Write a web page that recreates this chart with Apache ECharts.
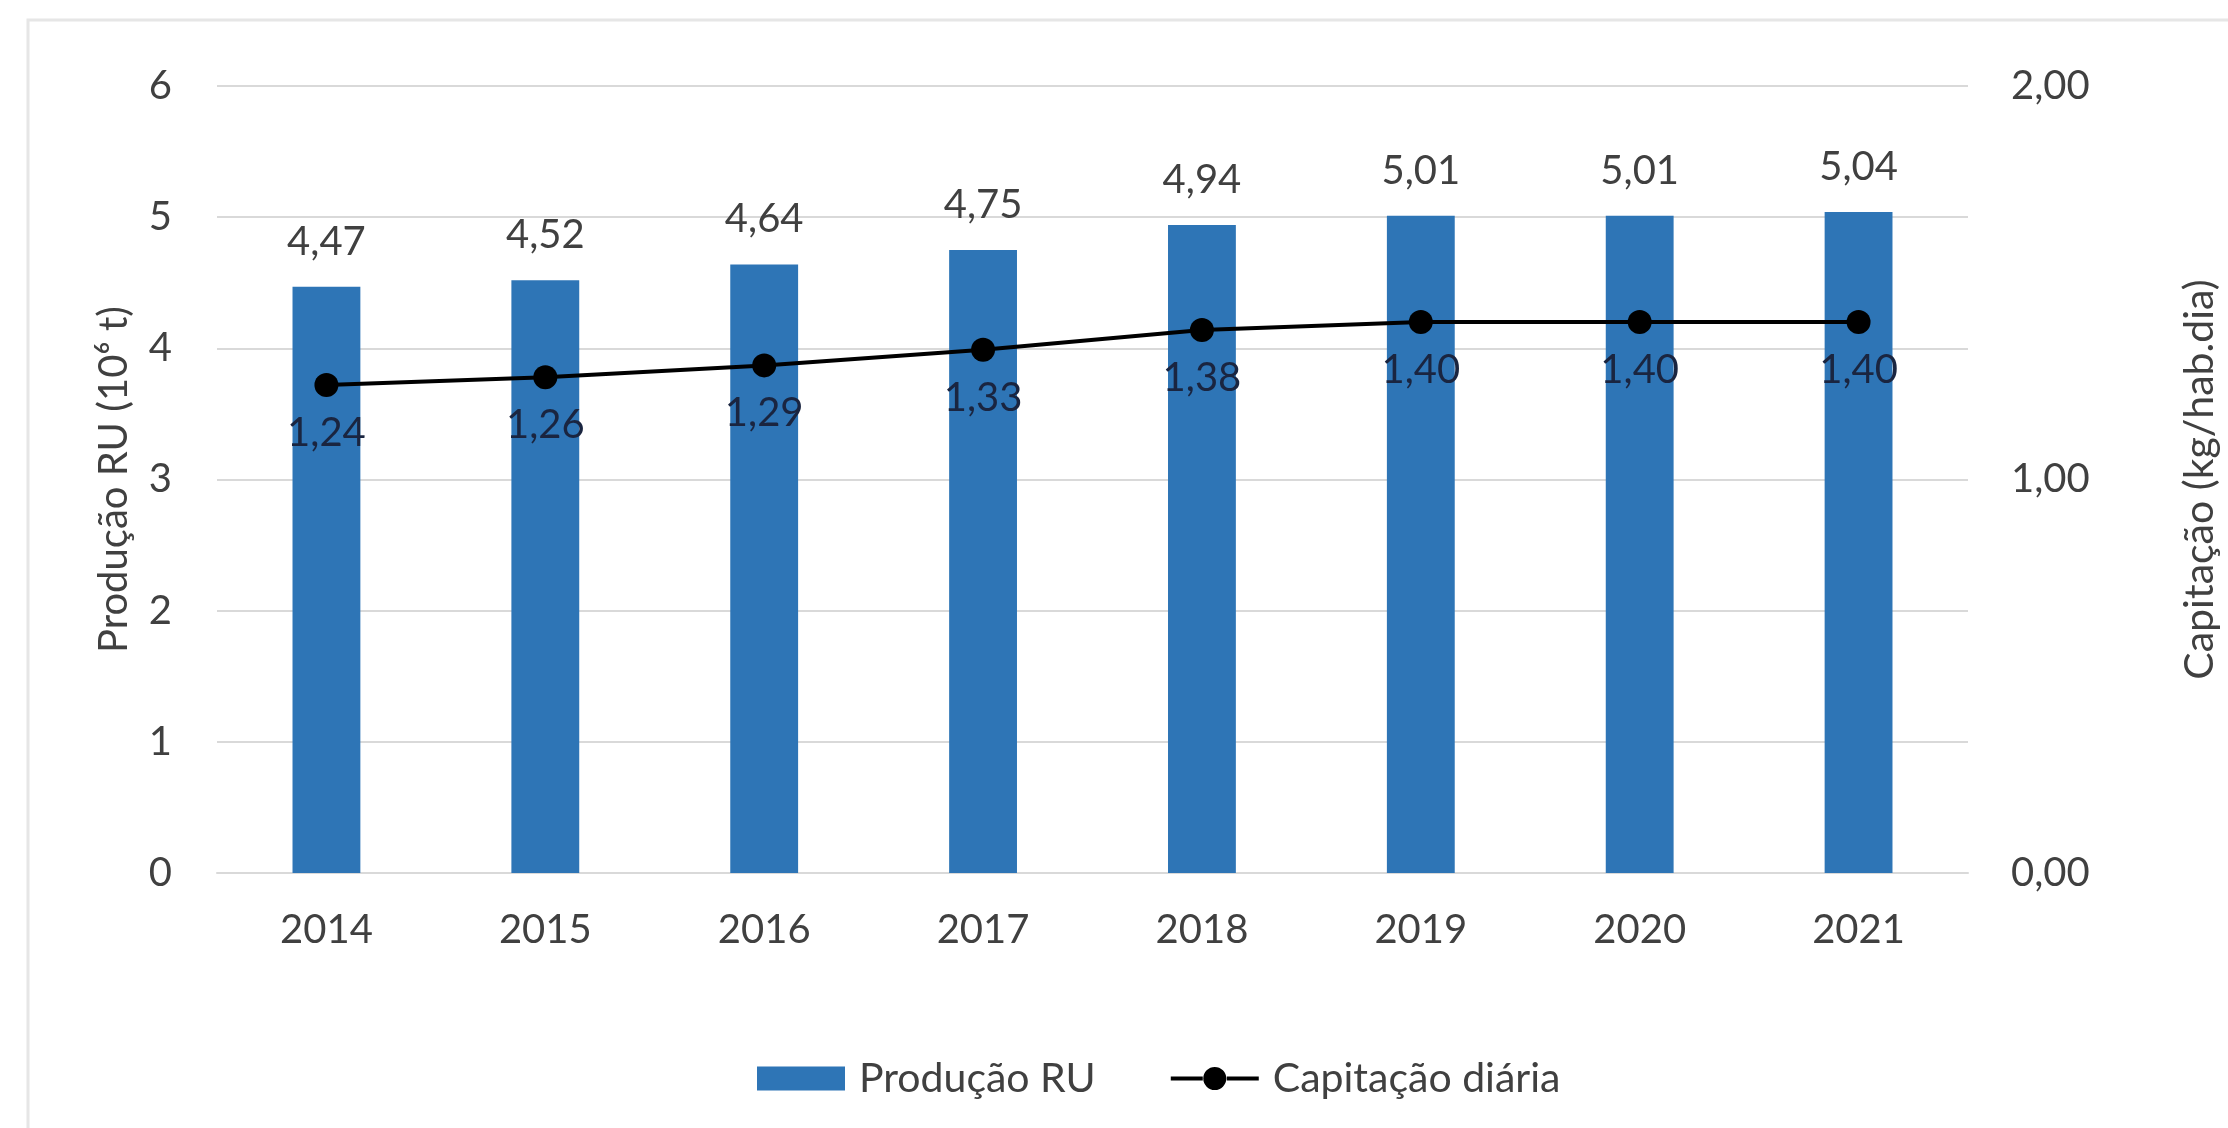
<!DOCTYPE html>
<html>
<head>
<meta charset="utf-8">
<script src="https://cdn.jsdelivr.net/npm/echarts@6/dist/echarts.min.js"></script>
<style>
html,body{margin:0;padding:0;background:#fff;}
#chart{width:2228px;height:1128px;}
</style>
</head>
<body>
<div id="chart"></div>
<script>
const categories = ['2014','2015','2016','2017','2018','2019','2020','2021'];
const producaoRU = [4.47, 4.52, 4.64, 4.75, 4.94, 5.01, 5.01, 5.04];
const capitacao = [1.24, 1.26, 1.29, 1.33, 1.38, 1.40, 1.40, 1.40];
const leftTicks = [0, 1, 2, 3, 4, 5, 6];
const rightTicks = ['0,00', '1,00', '2,00'];

const FONT = 'Lato';
const TXT = '#404040';
const FS = 40;
const fmt2 = v => v.toFixed(2).replace('.', ',');
const lineIcon = 'path://M0,10 L32,10 L32,14 L0,14 Z M56,10 L88,10 L88,14 L56,14 Z M32.5,12 A11.5,11.5 0 1,1 55.5,12 A11.5,11.5 0 1,1 32.5,12 Z';

const chart = echarts.init(document.getElementById('chart'));
chart.setOption({
  animation: false,
  backgroundColor: '#ffffff',
  textStyle: { fontFamily: FONT },
  graphic: [{
    type: 'rect',
    shape: { x: 28, y: 20, width: 2300, height: 1200 },
    style: { fill: 'none', stroke: '#E6E6E6', lineWidth: 3 },
    silent: true, z: -10
  }],
  grid: { left: 217, right: 253, top: 86, bottom: 255, containLabel: false },
  legend: {
    left: 752, top: 1053,
    itemWidth: 88, itemHeight: 24, itemGap: 75,
    textStyle: { fontFamily: FONT, fontSize: 41, color: TXT, padding: [0, 0, 0, 9] },
    data: [
      { name: 'Produção RU', icon: 'rect' },
      { name: 'Capitação diária', icon: lineIcon }
    ]
  },
  xAxis: {
    type: 'category',
    data: categories,
    axisLine: { show: true, lineStyle: { color: '#D9D9D9', width: 2 } },
    axisTick: { show: false },
    axisLabel: { fontFamily: FONT, fontSize: FS, color: TXT, margin: 37 }
  },
  yAxis: [{
    type: 'value', min: 0, max: 6, interval: 1,
    name: 'Produção RU (10⁶ t)',
    nameLocation: 'middle', nameRotate: 90, nameGap: 83,
    nameTextStyle: { fontFamily: FONT, fontSize: FS, color: TXT },
    axisLine: { show: false }, axisTick: { show: false },
    axisLabel: { fontFamily: FONT, fontSize: FS, color: TXT, margin: 45,
      formatter: v => leftTicks.includes(v) ? String(v) : '' },
    splitLine: { lineStyle: { color: '#D9D9D9', width: 2 } }
  }, {
    type: 'value', min: 0, max: 2, interval: 1, position: 'right',
    name: 'Capitação (kg/hab.dia)',
    nameLocation: 'middle', nameRotate: 90, nameGap: 211,
    nameTextStyle: { fontFamily: FONT, fontSize: 41, color: TXT },
    axisLine: { show: false }, axisTick: { show: false },
    axisLabel: { fontFamily: FONT, fontSize: FS, color: TXT, margin: 43,
      formatter: v => rightTicks[Math.round(v)] },
    splitLine: { show: false }
  }],
  series: [{
    name: 'Produção RU',
    type: 'bar',
    data: producaoRU,
    barWidth: '31%',
    itemStyle: { color: '#2E75B6' },
    label: { show: true, position: 'top', distance: 25,
      fontFamily: FONT, fontSize: FS, color: TXT,
      formatter: p => fmt2(p.value) }
  }, {
    name: 'Capitação diária',
    type: 'line',
    yAxisIndex: 1,
    data: capitacao,
    symbol: 'circle', symbolSize: 24,
    itemStyle: { color: '#000000' },
    lineStyle: { color: '#000000', width: 4 },
    label: { show: true, position: 'bottom', distance: 16,
      fontFamily: FONT, fontSize: FS, color: '#1a2540',
      formatter: p => fmt2(p.value) },
    z: 5
  }]
});
</script>
</body>
</html>
